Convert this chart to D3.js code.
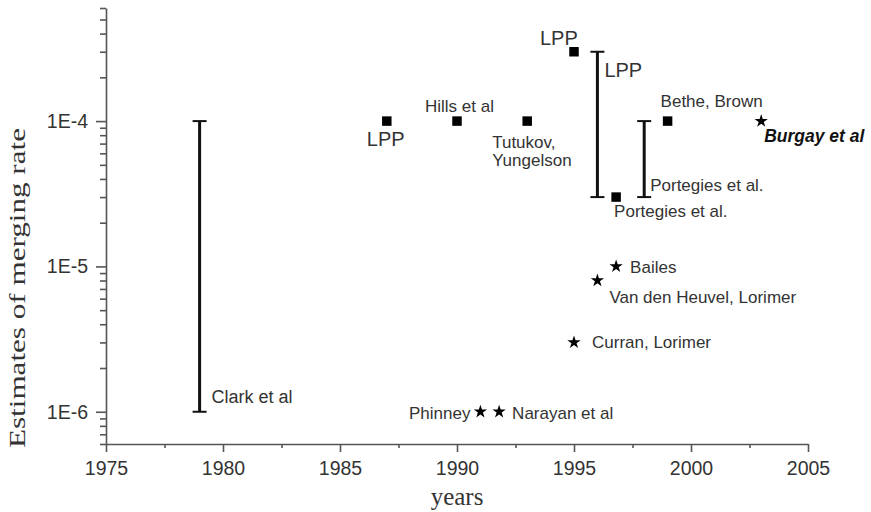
<!DOCTYPE html>
<html>
<head>
<meta charset="utf-8">
<script src="https://cdn.jsdelivr.net/npm/d3@7"></script>
<style>
  body { margin: 0; background: #fff; }
  svg { display: block; }
</style>
</head>
<body>
<div id="chart"></div>
<script>
var w = 871;
var h = 512;

// years and estimated merging rates
const squareYears = [1987, 1990, 1993, 1995, 1996.8, 1999];
const squareRates = [1e-4, 1e-4, 1e-4, 3e-4, 3e-5, 1e-4];

const starYears = [2003, 1996.8, 1996, 1995, 1991, 1991.8];
const starRates = [1e-4, 1e-5, 8e-6, 3e-6, 1e-6, 1e-6];

const barYears = [1979, 1996, 1998];
const barLow = [1e-6, 3e-5, 3e-5];
const barHigh = [1e-4, 3e-4, 1e-4];

const xTicks = [1975, 1980, 1985, 1990, 1995, 2000, 2005];
const xMinorTicks = [1977.5, 1982.5, 1987.5, 1992.5, 1997.5, 2002.5];
const yTicks = [1e-6, 1e-5, 1e-4];
const yMinorTicks = [6e-7, 7e-7, 8e-7, 9e-7,
  2e-6, 3e-6, 4e-6, 5e-6, 6e-6, 7e-6, 8e-6, 9e-6,
  2e-5, 3e-5, 4e-5, 5e-5, 6e-5, 7e-5, 8e-5, 9e-5,
  2e-4, 3e-4, 4e-4, 5e-4, 6e-4];

// label text, the year/rate it hangs on
const labelTexts = ["LPP", "Hills et al", "Tutukov,", "Yungelson", "LPP", "Portegies et al.",
  "Bethe, Brown", "Burgay et al", "Bailes", "Van den Heuvel, Lorimer", "Curran, Lorimer",
  "Phinney", "Narayan et al", "LPP", "Portegies et al.", "Clark et al"];
const labelYears = [1987, 1990, 1993, 1993, 1995, 1996.8, 1999, 2003, 1996.8, 1996, 1995, 1991, 1991.8, 1996, 1998, 1979];
const labelRates = [1e-4, 1e-4, 1e-4, 1e-4, 3e-4, 3e-5, 1e-4, 1e-4, 1e-5, 8e-6, 3e-6, 1e-6, 1e-6, 3e-4, 3e-5, 1e-6];

// layout: pixel offsets of each label from its anchor point
var labelDx = [-20, -32, -35, -35, -34, -2, -7, 3, 14, 12, 18, -10, 13, 7, 6, 12];
var labelDy = [25, -9, 27, 45, -7, 20, -14, 21, 7, 22, 6, 7, 7, 25, -6, -9];
var labelSize = [20, 17, 17, 17, 20, 17, 17, 17.5, 17, 17, 17, 17, 17, 20, 17, 18];

const x = d3.scaleLinear().domain([1975, 2005]).range([106, 808]);
const y = d3.scaleLog().domain([6e-7, 6e-4]).range([444, 8]);

const svg = d3.select('#chart')
    .append('svg')
    .attr('width', w)
    .attr('height', h);

const font = "'Liberation Sans', Arial, sans-serif";
const axisColor = "#555";

// x axis
const xAxis = svg.append('g')
    .attr('transform', 'translate(0,' + y(6e-7) + ')')
    .call(d3.axisBottom(x).tickValues(xTicks).tickSize(8).tickSizeOuter(0).tickFormat(d3.format('d')));
svg.append('g')
    .attr('transform', 'translate(0,' + y(6e-7) + ')')
    .call(d3.axisBottom(x).tickValues(xMinorTicks).tickSize(4).tickSizeOuter(0).tickFormat(''))
    .select('.domain').remove();

xAxis.selectAll('text')
    .attr('y', 17)
    .attr('font-size', 19.5)
    .attr('font-family', font)
    .attr('fill', '#333');

// y axis
const yAxis = svg.append('g')
    .attr('transform', 'translate(' + x(1975) + ',0)')
    .call(d3.axisLeft(y).tickValues(yTicks).tickSize(10).tickSizeOuter(0)
        .tickFormat(d => "1E" + Math.round(Math.log10(d))));
svg.append('g')
    .attr('transform', 'translate(' + x(1975) + ',0)')
    .call(d3.axisLeft(y).tickValues(yMinorTicks).tickSize(6).tickSizeOuter(0).tickFormat(''))
    .select('.domain').remove();

yAxis.selectAll('text')
    .attr('x', -18)
    .attr('font-size', 19.5)
    .attr('font-family', font)
    .attr('fill', '#333');

svg.selectAll('.domain, .tick line')
    .attr('stroke', axisColor)
    .attr('stroke-width', 1.6);

// axis titles
svg.append('text')
    .text('years')
    .attr('x', (x(1975) + x(2005)) / 2)
    .attr('y', 505)
    .attr('text-anchor', 'middle')
    .attr('font-family', "'Liberation Serif', 'Times New Roman', serif")
    .attr('font-size', 25)
    .attr('fill', '#333');

svg.append('text')
    .text('Estimates of merging rate')
    .attr('transform', 'translate(25,288) rotate(-90)')
    .attr('text-anchor', 'middle')
    .attr('font-family', "'Liberation Serif', 'Times New Roman', serif")
    .attr('font-size', 24)
    .attr('textLength', 320)
    .attr('lengthAdjust', 'spacingAndGlyphs')
    .attr('fill', '#333');

// range bars
const bars = svg.append('g').selectAll('g')
    .data(barYears)
    .enter().append('g');

bars.append('line')
    .attr('x1', d => x(d))
    .attr('x2', d => x(d))
    .attr('y1', (d, i) => y(barHigh[i]))
    .attr('y2', (d, i) => y(barLow[i]))
    .attr('stroke', '#111')
    .attr('stroke-width', 3);

bars.append('line')
    .attr('x1', d => x(d) - 7)
    .attr('x2', d => x(d) + 7)
    .attr('y1', (d, i) => y(barHigh[i]))
    .attr('y2', (d, i) => y(barHigh[i]))
    .attr('stroke', '#111')
    .attr('stroke-width', 2);

bars.append('line')
    .attr('x1', d => x(d) - 7)
    .attr('x2', d => x(d) + 7)
    .attr('y1', (d, i) => y(barLow[i]))
    .attr('y2', (d, i) => y(barLow[i]))
    .attr('stroke', '#111')
    .attr('stroke-width', 2);

// squares
svg.append('g').selectAll('path')
    .data(squareYears)
    .enter().append('path')
    .attr('d', d3.symbol().type(d3.symbolSquare).size(90))
    .attr('transform', (d, i) => 'translate(' + x(d) + ',' + y(squareRates[i]) + ')')
    .attr('fill', '#000');

// stars
svg.append('g').selectAll('path')
    .data(starYears)
    .enter().append('path')
    .attr('d', d3.symbol().type(d3.symbolStar).size(55))
    .attr('transform', (d, i) => 'translate(' + x(d) + ',' + y(starRates[i]) + ')')
    .attr('fill', '#000');

// labels
svg.append('g').selectAll('text')
    .data(labelTexts)
    .enter().append('text')
    .text(d => d)
    .attr('x', (d, i) => x(labelYears[i]) + labelDx[i])
    .attr('y', (d, i) => y(labelRates[i]) + labelDy[i])
    .attr('text-anchor', d => d === 'Phinney' ? 'end' : 'start')
    .attr('font-family', font)
    .attr('font-size', (d, i) => labelSize[i])
    .attr('font-weight', d => d === 'Burgay et al' ? 'bold' : 'normal')
    .attr('font-style', d => d === 'Burgay et al' ? 'italic' : 'normal')
    .attr('fill', d => d === 'Burgay et al' ? '#111' : '#333');
</script>
</body>
</html>
